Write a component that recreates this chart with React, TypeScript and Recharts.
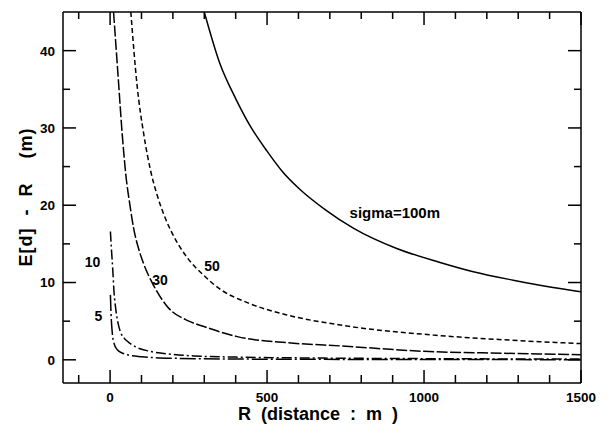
import { LineChart, Line, XAxis, YAxis, ReferenceDot } from 'recharts'

// distance R (m) and E[d] - R (m) for each sigma
const r100 = [300, 350, 400, 450, 500, 550, 606, 686, 776, 913, 1051, 1157, 1284, 1411, 1500]
const e100 = [45, 38.3, 33.8, 30.0, 27.0, 24.3, 22.0, 19.4, 17.0, 14.4, 12.6, 11.4, 10.3, 9.35, 8.8]

const r50 = [66, 86, 108, 130, 150, 175, 200, 246, 299, 352, 437, 564, 733, 1030, 1250, 1500]
const e50 = [45, 35.5, 29, 24.3, 21.3, 18.4, 16.2, 13.2, 10.9, 9.1, 7.4, 5.8, 4.5, 3.2, 2.6, 2.1]

const r30 = [11, 25, 39, 50, 64, 76, 90, 108, 135, 182, 251, 299, 405, 585, 733, 1000, 1250, 1500]
const e30 = [45, 37, 29, 24, 19.8, 16.8, 14.5, 12.3, 9.9, 6.9, 5.0, 4.3, 3.0, 2.15, 1.8, 1.1, 0.85, 0.65]

const r10 = [1, 4, 8, 13, 18, 25, 34, 45, 55, 80, 130, 200, 267, 400, 600, 1000, 1500]
const e10 = [16.6, 14.5, 12, 8.5, 6.6, 4.8, 3.5, 2.8, 2.4, 1.7, 1.07, 0.7, 0.5, 0.35, 0.25, 0.15, 0.1]

const r5 = [1, 3, 7, 12, 23, 40, 55, 100, 200, 400, 800, 1500]
const e5 = [8.4, 6, 3.45, 2.2, 1.3, 0.85, 0.65, 0.4, 0.2, 0.1, 0.05, 0.02]

const xTicks = [-100, 0, 100, 200, 300, 400, 500, 600, 700, 800, 900, 1000, 1100, 1200, 1300, 1400, 1500]
const yTicks = [0, 5, 10, 15, 20, 25, 30, 35, 40]

const curveLabels = [
  { x: -56, y: 12.6, text: '10', size: 14 },
  { x: -37, y: 5.7, text: '5', size: 14 },
  { x: 159, y: 10.3, text: '30', size: 14 },
  { x: 325, y: 12.1, text: '50', size: 14 },
  { x: 907, y: 19.1, text: 'sigma=100m', size: 15 },
]

const zip = (xs: number[], ys: number[]) => xs.map((x, i) => ({ x, y: ys[i] }))

const FONT = '"Liberation Sans", Arial, Helvetica, sans-serif'

const BottomTick = ({ x, y, payload }: any) => {
  const major = payload.value % 500 === 0
  return (
    <g>
      <line x1={x} x2={x} y1={y} y2={y - (major ? 13 : 8)} stroke="#000" strokeWidth={1.5} />
      {major && (
        <text x={x} y={y + 19} textAnchor="middle" fontFamily={FONT} fontWeight="bold" fontSize={13.5} fill="#000">
          {payload.value}
        </text>
      )}
    </g>
  )
}

const TopTick = ({ x, y, payload }: any) => {
  const major = payload.value % 500 === 0
  return <line x1={x} x2={x} y1={y} y2={y + (major ? 13 : 7)} stroke="#000" strokeWidth={1.5} />
}

const LeftTick = ({ x, y, payload }: any) => {
  const major = payload.value % 10 === 0
  return (
    <g>
      <line x1={x} x2={x + (major ? 13 : 7)} y1={y} y2={y} stroke="#000" strokeWidth={1.5} />
      {major && (
        <text x={x - 8} y={y} dy="0.36em" textAnchor="end" fontFamily={FONT} fontWeight="bold" fontSize={13.5} fill="#000">
          {payload.value}
        </text>
      )}
    </g>
  )
}

const RightTick = ({ x, y, payload }: any) => {
  const major = payload.value % 10 === 0
  return <line x1={x} x2={x - (major ? 13 : 7)} y1={y} y2={y} stroke="#000" strokeWidth={1.5} />
}

export default function App() {
  const axisLine = { stroke: '#000', strokeWidth: 1.5 }
  return (
    <div style={{ position: 'absolute', left: 0, top: 0, width: 607, height: 426, background: '#fff' }}>
      <LineChart width={607} height={426} margin={{ top: 0, right: 0, bottom: 0, left: 0 }}>
        <XAxis xAxisId="b" dataKey="x" type="number" domain={[-150, 1500]} allowDataOverflow
          ticks={xTicks} interval={0} height={43} tickSize={0} tickMargin={0} tickLine={false}
          axisLine={axisLine} tick={BottomTick} />
        <XAxis xAxisId="t" orientation="top" dataKey="x" type="number" domain={[-150, 1500]} allowDataOverflow
          ticks={xTicks} interval={0} height={12} tickSize={0} tickMargin={0} tickLine={false}
          axisLine={axisLine} tick={TopTick} />
        <YAxis yAxisId="l" type="number" domain={[-3, 45]} allowDataOverflow ticks={yTicks} interval={0}
          width={63} tickSize={0} tickMargin={0} tickLine={false} axisLine={axisLine} tick={LeftTick} />
        <YAxis yAxisId="r" orientation="right" type="number" domain={[-3, 45]} allowDataOverflow ticks={yTicks}
          interval={0} width={26} tickSize={0} tickMargin={0} tickLine={false} axisLine={axisLine} tick={RightTick} />

        <Line xAxisId="b" yAxisId="l" data={zip(r100, e100)} dataKey="y" type="monotone" stroke="#000"
          strokeWidth={1.5} dot={false} activeDot={false} isAnimationActive={false} />
        <Line xAxisId="b" yAxisId="l" data={zip(r50, e50)} dataKey="y" type="monotone" stroke="#000"
          strokeWidth={1.5} strokeDasharray="5 3" dot={false} activeDot={false} isAnimationActive={false} />
        <Line xAxisId="b" yAxisId="l" data={zip(r30, e30)} dataKey="y" type="monotone" stroke="#000"
          strokeWidth={1.5} strokeDasharray="11 2.5" dot={false} activeDot={false} isAnimationActive={false} />
        <Line xAxisId="b" yAxisId="l" data={zip(r10, e10)} dataKey="y" type="monotone" stroke="#000"
          strokeWidth={1.5} strokeDasharray="10 3 2 3" dot={false} activeDot={false} isAnimationActive={false} />
        <Line xAxisId="b" yAxisId="l" data={zip(r5, e5)} dataKey="y" type="monotone" stroke="#000"
          strokeWidth={1.5} strokeDasharray="16 3 2 3" dot={false} activeDot={false} isAnimationActive={false} />

        {curveLabels.map((c) => (
          <ReferenceDot key={c.text} xAxisId="b" yAxisId="l" x={c.x} y={c.y} r={0} fill="none" stroke="none"
            label={{ value: c.text, position: 'center', fill: '#000', fontSize: c.size, fontWeight: 'bold', fontFamily: FONT }} />
        ))}
      </LineChart>
      <div style={{
        position: 'absolute', left: 318, top: 414, transform: 'translate(-50%, -50%)', whiteSpace: 'pre',
        fontFamily: FONT, fontWeight: 'bold', fontSize: 18, color: '#000',
      }}>
        {'R  (distance  :  m  )'}
      </div>
      <div style={{
        position: 'absolute', left: 26, top: 197, transform: 'translate(-50%, -50%) rotate(-90deg)', whiteSpace: 'pre',
        fontFamily: FONT, fontWeight: 'bold', fontSize: 18, letterSpacing: 1, color: '#000',
      }}>
        {'E[d]  -  R    (m)'}
      </div>
    </div>
  )
}
